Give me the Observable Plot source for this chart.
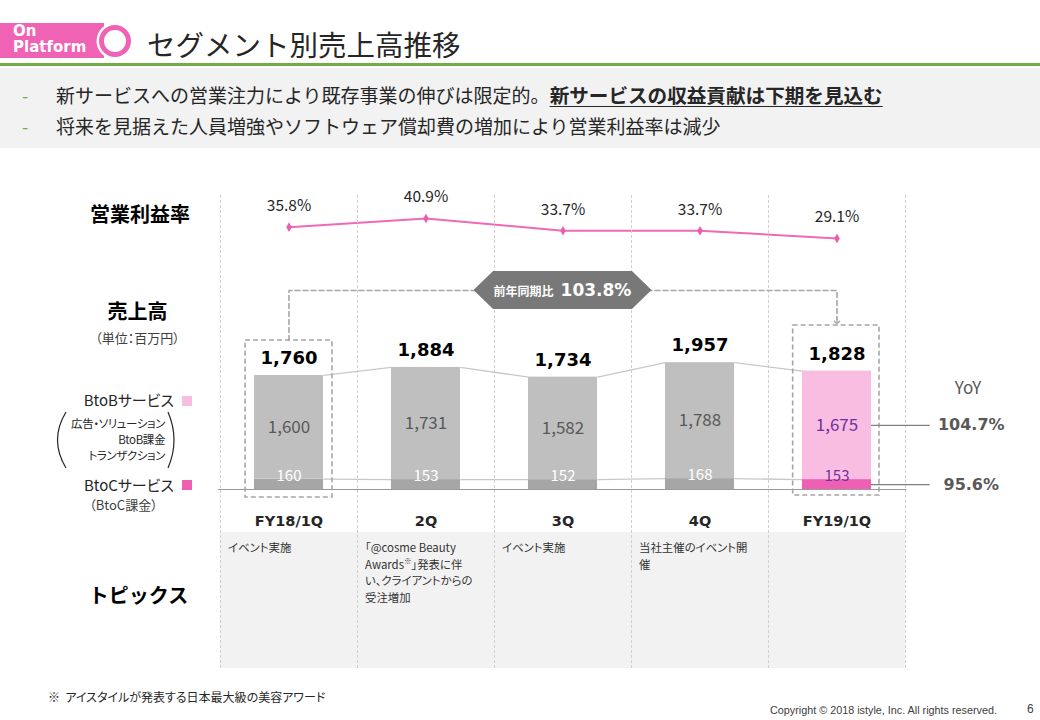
<!DOCTYPE html>
<html><head><meta charset="utf-8">
<script src="https://cdn.jsdelivr.net/npm/d3@7"></script>
<script src="https://cdn.jsdelivr.net/npm/@observablehq/plot@0.6"></script>
<style>
body{margin:0;width:1040px;height:720px;position:relative;overflow:hidden;background:#fff;font-family:"Noto Sans CJK JP","Noto Sans",sans-serif;color:#262626}
.a{position:absolute;white-space:nowrap}
.p{font-feature-settings:"palt"}
</style></head><body>
<!-- header -->
<div class="a" style="left:0;top:23px;width:104px;height:35px;background:#f063b4"></div>
<div class="a" style="left:13px;top:23px;color:#fff;font:bold 15px/16px 'DejaVu Sans';">On<br>Platform</div>
<div class="a" style="left:99px;top:25px;width:32px;height:32px;box-sizing:border-box;border:5.5px solid #f063b4;border-radius:50%;background:#fff;box-shadow:0 0 0 2.5px #fff"></div>
<div class="a" style="left:147px;top:25px;font-size:28.5px;line-height:38px;color:#262626">セグメント別売上高推移</div>
<div class="a" style="left:0;top:63px;width:1040px;height:3px;background:#70ad47"></div>
<div class="a" style="left:0;top:68px;width:1040px;height:80px;background:#f2f2f2"></div>
<div class="a" style="left:22px;top:82px;font-size:18px;line-height:26px;color:#70ad47">-</div>
<div class="a" style="left:22px;top:113px;font-size:18px;line-height:26px;color:#70ad47">-</div>
<div class="a" style="left:56px;top:82px;font-size:19px;line-height:26px;color:#262626">新サービスへの営業注力により既存事業の伸びは限定的。<b style="font-size:19.6px;text-decoration:underline;text-underline-offset:3px">新サービスの収益貢献は下期を見込む</b></div>
<div class="a" style="left:56px;top:113px;font-size:19px;line-height:26px;color:#262626">将来を見据えた人員増強やソフトウェア償却費の増加により営業利益率は減少</div>

<!-- left labels -->
<div class="a" style="left:0;width:190px;text-align:right;top:200px;font-size:20px;line-height:28px;font-weight:bold;color:#000">営業利益率</div>
<div class="a" style="left:87px;width:101px;text-align:center;top:297px;font-size:20px;line-height:28px;font-weight:bold;color:#000">売上高</div>
<div class="a p" style="left:77px;width:121px;text-align:center;top:329px;font-size:13px;line-height:18px;color:#404040">（単位：百万円）</div>
<div class="a p" style="left:0;width:174px;text-align:right;top:390px;font-size:15px;line-height:20px;color:#262626">BtoBサービス</div>
<div class="a" style="left:182px;top:396px;width:10px;height:10px;background:#f8bde0"></div>
<div class="a p" style="left:0;width:165px;text-align:right;top:415px;font-size:11.5px;letter-spacing:-0.4px;line-height:16px;color:#262626">広告・ソリューション<br>BtoB課金<br>トランザクション</div>
<svg class="a" style="left:0;top:0" width="200" height="520"><path d="M66 412 Q49 440 66 468" fill="none" stroke="#262626" stroke-width="1.2"/><path d="M168 412 Q180 440 168 468" fill="none" stroke="#262626" stroke-width="1.2"/></svg>
<div class="a p" style="left:0;width:174px;text-align:right;top:475px;font-size:15px;line-height:20px;color:#262626">BtoCサービス</div>
<div class="a" style="left:182px;top:480px;width:10px;height:10px;background:#ef5fb4"></div>
<div class="a p" style="left:73px;width:101px;text-align:center;top:496px;font-size:13px;line-height:18px;color:#404040">（BtoC課金）</div>
<div class="a" style="left:88px;width:101px;text-align:center;top:581px;font-size:20px;line-height:28px;font-weight:bold;color:#000">トピックス</div>
<div class="a" style="left:928px;width:80px;text-align:center;top:375px;font-size:17px;line-height:24px;color:#595959">YoY</div>

<!-- topics background -->
<div class="a" style="left:220px;top:532px;width:685px;height:136px;background:#f2f2f2"></div>
<div id="topics"></div>

<!-- footer -->
<div class="a p" style="left:48px;top:689px;font-size:12px;line-height:16px;color:#262626">※&nbsp;&nbsp;アイスタイルが発表する日本最大級の美容アワード</div>
<div class="a" style="left:770px;top:703px;font-family:'Liberation Sans',Arial,sans-serif;font-size:10.8px;line-height:14px;color:#404040">Copyright © 2018 istyle, Inc. All rights reserved.</div>
<div class="a" style="left:1027px;top:701px;font-family:'Liberation Sans',Arial,sans-serif;font-size:12px;line-height:16px;color:#404040">6</div>

<script>
// ---------- data ----------
const quarters = ["FY18/1Q", "2Q", "3Q", "4Q", "FY19/1Q"];
const totals = [1760, 1884, 1734, 1957, 1828];
const btobValues = [1600, 1731, 1582, 1788, 1675];
const btocValues = [160, 153, 152, 168, 153];
const marginRates = [35.8, 40.9, 33.7, 33.7, 29.1];
const yoyValues = [104.7, 95.6]; // BtoB, BtoC
const yoyTotal = "103.8%";
const topics = [
  ["イベント実施"],
  ["「@cosme Beauty", "Awards<sup style=\"font-size:7.5px;line-height:0\">※</sup>」発表に伴", "い、クライアントからの", "受注増加"],
  ["イベント実施"],
  ["当社主催のイベント開", "催"],
  []
];

// ---------- layout ----------
const W = 1040, H = 720;
const xLeft = 220, xRight = 905;
const colW = (xRight - xLeft) / quarters.length;
const base = 489, K = 0.0648; // px per million yen
const u = px => px / K;
const hw = 0.252;
const fmt = d3.format(",");
const lastI = quarters.length - 1;

const rows = quarters.map((q, i) => ({
  i, q, btob: btobValues[i], btoc: btocValues[i], total: totals[i], rate: marginRates[i], last: i === lastI
}));
const pairs = rows.slice(0, -1).map((d, i) => ({a: d, b: rows[i + 1]}));
const lastRow = rows[lastI];
const yoyRows = [
  {y: lastRow.btoc + lastRow.btob / 2, v: yoyValues[0]},
  {y: lastRow.btoc / 2, v: yoyValues[1]}
];
const bracketLevel = u(199);
const bracketPts = [
  {x: 0, y: u(149)}, {x: 0, y: bracketLevel}, {x: lastI, y: bracketLevel}, {x: lastI, y: u(170)}
];

const xOpt = {domain: [-0.5, quarters.length - 0.5], axis: null};
const svgStyle = {background: "transparent", position: "absolute", left: "0px", top: "0px", overflow: "visible", zIndex: 1};
const jp = "Noto Sans CJK JP";
const num = "DejaVu Sans";

// ---------- margin rate line ----------
const r0 = 287.3, r50 = 202.6;
const ratePlot = Plot.plot({
  width: W, height: H,
  marginLeft: xLeft, marginRight: W - xRight, marginTop: r50, marginBottom: H - r0,
  x: xOpt,
  y: {domain: [0, 50], axis: null},
  style: svgStyle,
  marks: [
    Plot.line(rows, {x: "i", y: "rate", stroke: "#ee6ab8", strokeWidth: 2}),
    Plot.dot(rows, {x: "i", y: "rate", symbol: "diamond", r: 2.9, fill: "#ec5cae"}),
    Plot.text(rows, {x: "i", y: "rate", dy: -21, text: d => d.rate.toFixed(1) + "%", fontSize: 15.5, fontFamily: jp, fill: "#262626"})
  ]
});

// ---------- sales bars ----------
const frameTop = 195, frameBottom = 668;
const salesPlot = Plot.plot({
  width: W, height: H,
  marginLeft: xLeft, marginRight: W - xRight, marginTop: frameTop, marginBottom: H - frameBottom,
  x: xOpt,
  y: {domain: [-u(frameBottom - base), u(base - frameTop)], axis: null},
  color: {type: "identity"},
  style: svgStyle,
  marks: [
    Plot.ruleX(d3.range(quarters.length + 1).map(i => i - 0.5), {stroke: "#d0d0d0", strokeDasharray: "3,2", strokeWidth: 1}),
    Plot.link(pairs, {x1: p => p.a.i + hw, x2: p => p.b.i - hw, y1: p => p.a.total, y2: p => p.b.total, stroke: "#c8c8c8", strokeWidth: 1.3}),
    Plot.link(pairs, {x1: p => p.a.i + hw, x2: p => p.b.i - hw, y1: p => p.a.btoc, y2: p => p.b.btoc, stroke: "#c8c8c8", strokeWidth: 1.3}),
    Plot.rectY(rows, {x1: d => d.i - hw, x2: d => d.i + hw, y1: 0, y2: "btoc", fill: d => d.last ? "#ef5fb4" : "#a6a6a6"}),
    Plot.rectY(rows, {x1: d => d.i - hw, x2: d => d.i + hw, y1: "btoc", y2: "total", fill: d => d.last ? "#f8bde0" : "#bfbfbf"}),
    Plot.text(rows, {x: "i", y: "total", dy: -17, text: d => fmt(d.total), fontSize: 18, fontWeight: "bold", fontFamily: num, fill: "#000"}),
    Plot.text(rows, {x: "i", y: d => d.btoc + d.btob / 2, text: d => fmt(d.btob), fontSize: 17, fontFamily: jp, fill: d => d.last ? "#7030a0" : "#595959"}),
    Plot.text(rows, {x: "i", y: "btoc", dy: -3, text: d => fmt(d.btoc), fontSize: 15, fontFamily: jp, fill: d => d.last ? "#7030a0" : "#ffffff"}),
    Plot.ruleY([0], {x1: -0.515, x2: quarters.length - 0.49, stroke: "#9a9a9a", strokeWidth: 1.2}),
    Plot.rect([rows[0]], {x1: d => d.i - 0.317, x2: d => d.i + 0.317, y1: -u(8), y2: u(149), fill: "none", stroke: "#a6a6a6", strokeWidth: 1.6, strokeDasharray: "5,3"}),
    Plot.rect([lastRow], {x1: d => d.i - 0.32, x2: d => d.i + 0.31, y1: -u(6), y2: u(164), fill: "none", stroke: "#a6a6a6", strokeWidth: 1.6, strokeDasharray: "5,3"}),
    Plot.line(bracketPts, {x: "x", y: "y", stroke: "#a6a6a6", strokeWidth: 1.6, strokeDasharray: "5,3"}),
    Plot.link([lastRow], {x1: "i", x2: "i", y1: u(172), y2: u(167), stroke: "#a6a6a6", strokeWidth: 1.3, markerEnd: "arrow"}),
    Plot.ruleY(yoyRows, {y: "y", x1: lastI + hw, x2: lastI + 0.68, stroke: "#7f7f7f", strokeWidth: 1.2}),
    Plot.text(yoyRows, {x: lastI + 0.98, y: "y", text: d => d.v.toFixed(1) + "%", fontSize: 16, fontWeight: "bold", fontFamily: num, fill: "#595959"}),
    Plot.text(rows, {x: "i", y: 0, dy: 32, text: "q", fontSize: 14.5, fontWeight: "bold", fontFamily: num, fill: "#262626"})
  ]
});

document.body.appendChild(ratePlot);
document.body.appendChild(salesPlot);

// topics text, one element per line
const tdiv = document.getElementById("topics");
topics.forEach((lines, i) => {
  lines.forEach((t, j) => {
    const el = document.createElement("div");
    el.className = "a p";
    el.style.cssText = `left:${xLeft + i * colW + 8}px;top:${539 + j * 16.5}px;height:16px;font-size:11.4px;line-height:16px;color:#333`;
    el.innerHTML = t;
    tdiv.appendChild(el);
  });
});

// YoY total badge (hexagon) centered on bracket
let cx, cy;
try { cx = salesPlot.scale("x").apply(lastI / 2); cy = salesPlot.scale("y").apply(bracketLevel); }
catch (e) { cx = xLeft + colW * (lastI / 2 + 0.5); cy = base - 199; }
if (!isFinite(cx) || !isFinite(cy)) { cx = xLeft + colW * (lastI / 2 + 0.5); cy = base - 199; }
const hex = document.createElement("div");
hex.className = "a";
hex.style.cssText = `left:${cx - 89}px;top:${cy - 19}px;width:178px;height:38px;background:#787878;z-index:2;clip-path:polygon(11% 0,89% 0,100% 50%,89% 100%,11% 100%,0 50%);display:flex;align-items:center;justify-content:center;color:#fff;font-weight:bold`;
hex.innerHTML = `<span style="font-size:12px;margin-right:7px">前年同期比</span><span style="font-family:'DejaVu Sans';font-size:17px">${yoyTotal}</span>`;
document.body.appendChild(hex);
</script>
</body></html>
